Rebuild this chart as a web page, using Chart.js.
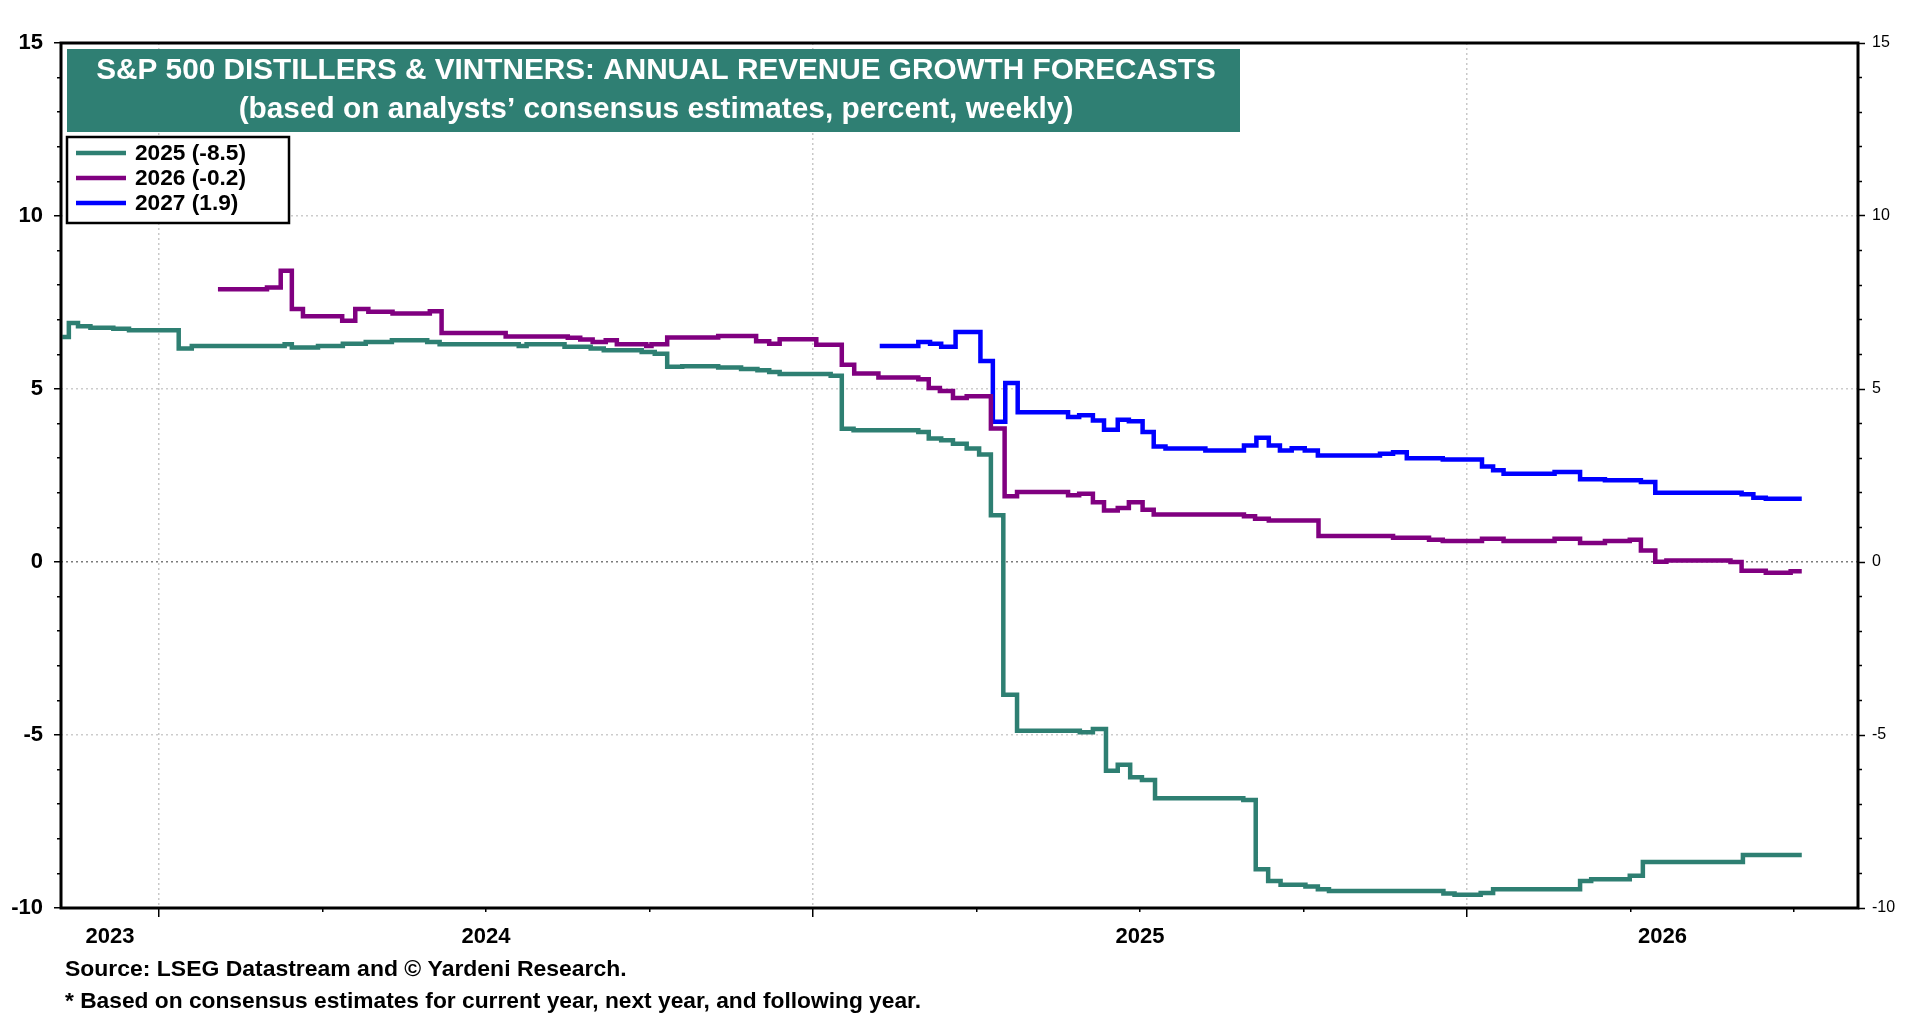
<!DOCTYPE html>
<html>
<head>
<meta charset="utf-8">
<script src="https://cdn.jsdelivr.net/npm/chart.js@4.4.1/dist/chart.umd.min.js"></script>
<style>
  html, body { margin: 0; padding: 0; background: #fff; }
  #wrap { width: 1920px; height: 1020px; }
</style>
</head>
<body>
<div id="wrap"><canvas id="myCanvas" width="1920" height="1020"></canvas></div>
<script>
// x values are decimal years (weekly consensus, only the weeks where the level changes)
const dates2025 = [2023.852, 2023.862, 2023.876, 2023.895, 2023.930, 2023.954, 2024.030, 2024.050, 2024.192, 2024.203,
  2024.243, 2024.281, 2024.316, 2024.356, 2024.410, 2024.429, 2024.550, 2024.562, 2024.620, 2024.660,
  2024.680, 2024.738, 2024.758, 2024.777, 2024.800, 2024.855, 2024.890, 2024.915, 2024.933, 2024.949,
  2025.027, 2025.044, 2025.062, 2025.161, 2025.177, 2025.196, 2025.214, 2025.235, 2025.254, 2025.272,
  2025.291, 2025.312, 2025.408, 2025.428, 2025.448, 2025.466, 2025.485, 2025.503, 2025.523, 2025.658,
  2025.677, 2025.696, 2025.715, 2025.753, 2025.772, 2025.789, 2025.964, 2025.981, 2026.021, 2026.040,
  2026.173, 2026.190, 2026.249, 2026.269, 2026.422, 2026.512]
const growth2025 = [6.50, 6.91, 6.81, 6.77, 6.74, 6.70, 6.17, 6.24, 6.29, 6.20,
  6.24, 6.31, 6.36, 6.41, 6.36, 6.29, 6.24, 6.29, 6.22, 6.17,
  6.12, 6.07, 6.02, 5.64, 5.66, 5.62, 5.58, 5.54, 5.49, 5.43,
  5.38, 3.85, 3.81, 3.76, 3.57, 3.52, 3.42, 3.28, 3.11, 1.35,
  -3.84, -4.88, -4.92, -4.83, -6.03, -5.86, -6.22, -6.30, -6.83, -6.88,
  -8.88, -9.22, -9.33, -9.38, -9.46, -9.51, -9.58, -9.62, -9.57, -9.46,
  -9.22, -9.17, -9.07, -8.67, -8.47, -8.47]

const dates2026 = [2024.090, 2024.165, 2024.186, 2024.203, 2024.220, 2024.280, 2024.300, 2024.320, 2024.357, 2024.414,
  2024.432, 2024.530, 2024.625, 2024.644, 2024.663, 2024.683, 2024.700, 2024.745, 2024.753, 2024.777,
  2024.855, 2024.913, 2024.933, 2024.949, 2025.005, 2025.044, 2025.063, 2025.100, 2025.161, 2025.177,
  2025.194, 2025.214, 2025.235, 2025.272, 2025.293, 2025.312, 2025.390, 2025.407, 2025.428, 2025.445,
  2025.466, 2025.483, 2025.504, 2025.521, 2025.659, 2025.676, 2025.697, 2025.773, 2025.887, 2025.942,
  2025.963, 2026.023, 2026.056, 2026.134, 2026.173, 2026.211, 2026.249, 2026.266, 2026.288, 2026.305,
  2026.403, 2026.420, 2026.457, 2026.495, 2026.512]
const growth2026 = [7.88, 7.93, 8.42, 7.31, 7.10, 6.97, 7.31, 7.23, 7.18, 7.25,
  6.62, 6.52, 6.48, 6.43, 6.36, 6.41, 6.29, 6.24, 6.29, 6.49,
  6.53, 6.38, 6.31, 6.44, 6.28, 5.70, 5.45, 5.33, 5.28, 5.03,
  4.94, 4.74, 4.79, 3.86, 1.90, 2.02, 1.93, 1.97, 1.73, 1.49,
  1.56, 1.73, 1.51, 1.37, 1.32, 1.25, 1.20, 0.75, 0.70, 0.64,
  0.61, 0.67, 0.61, 0.67, 0.55, 0.61, 0.64, 0.33, 0.01, 0.04,
  0.00, -0.25, -0.31, -0.27, -0.27]

const dates2027 = [2025.102, 2025.161, 2025.179, 2025.196, 2025.218, 2025.256, 2025.275, 2025.294, 2025.313, 2025.390,
  2025.407, 2025.428, 2025.445, 2025.466, 2025.483, 2025.504, 2025.521, 2025.539, 2025.600, 2025.659,
  2025.678, 2025.697, 2025.714, 2025.732, 2025.752, 2025.772, 2025.867, 2025.887, 2025.908, 2025.963,
  2026.023, 2026.040, 2026.056, 2026.134, 2026.173, 2026.211, 2026.266, 2026.288, 2026.420, 2026.438,
  2026.457, 2026.512]
const growth2027 = [6.24, 6.36, 6.31, 6.22, 6.65, 5.81, 4.05, 5.17, 4.33, 4.19,
  4.24, 4.09, 3.82, 4.11, 4.07, 3.76, 3.34, 3.28, 3.22, 3.37,
  3.59, 3.37, 3.22, 3.29, 3.22, 3.08, 3.13, 3.17, 3.00, 2.96,
  2.76, 2.65, 2.55, 2.60, 2.39, 2.36, 2.31, 2.00, 1.96, 1.86,
  1.83, 1.83]

const seriesLabels = ['2025 (-8.5)', '2026 (-0.2)', '2027 (1.9)']
const seriesColors = ['#2e7f72', '#800080', '#0000ff']
const yearLabels = [2023, 2024, 2025, 2026]
const yMajorTicks = [-10, -5, 0, 5, 10, 15]

const X_MIN = 2023.85
const X_MAX = 2026.598
const FONT = 'Liberation Sans, Arial, Helvetica, sans-serif'

const titleText = 'S&P 500 DISTILLERS & VINTNERS: ANNUAL REVENUE GROWTH FORECASTS'
const subtitleText = '(based on analysts\u2019 consensus estimates, percent, weekly)'
const sourceText = 'Source: LSEG Datastream and \u00A9 Yardeni Research.'
const noteText = '* Based on consensus estimates for current year, next year, and following year.'

const toPoints = (xs, ys) => xs.map((x, i) => ({x: x, y: ys[i]}))

// quarter ticks and year labels (placed mid-way in the visible part of each year)
let quarterTicks = []
for (let q = Math.ceil(X_MIN * 4) / 4; q <= X_MAX; q += 0.25) quarterTicks.push(q)
let labelAt = new Map()
yearLabels.forEach(y => {
    let lo = Math.max(y, X_MIN), hi = Math.min(y + 1, X_MAX)
    labelAt.set((lo + hi) / 2, String(y))
})
const isYearStart = v => Math.abs(v - Math.round(v)) < 1e-6 && v > X_MIN
const isQuarter = v => quarterTicks.some(q => Math.abs(q - v) < 1e-6)

function fitSize(ctx, text, weight, width) {
    ctx.font = weight + ' 100px ' + FONT
    return 100 * width / ctx.measureText(text).width
}

const decor = {
    id: 'decor',
    beforeDraw(chart) {
        let ctx = chart.ctx
        ctx.save()
        ctx.fillStyle = '#fff'
        ctx.fillRect(0, 0, chart.width, chart.height)
        ctx.restore()
    },
    afterDatasetsDraw(chart) {
        let ctx = chart.ctx
        let a = chart.chartArea
        ctx.save()
        // frame
        ctx.strokeStyle = '#000'
        ctx.lineWidth = 3
        ctx.strokeRect(a.left, a.top, a.right - a.left, a.bottom - a.top)

        // title box
        ctx.fillStyle = '#2f7f73'
        ctx.fillRect(a.left + 6, a.top + 6, 1173, 83)
        ctx.fillStyle = '#fff'
        ctx.textAlign = 'center'
        ctx.textBaseline = 'middle'
        let s = fitSize(ctx, titleText, 'bold', 1120)
        ctx.font = 'bold ' + s + 'px ' + FONT
        ctx.fillText(titleText, 656, 71)
        s = fitSize(ctx, subtitleText, 'bold', 835)
        ctx.font = 'bold ' + s + 'px ' + FONT
        ctx.fillText(subtitleText, 656, 110)

        // legend
        ctx.fillStyle = '#fff'
        ctx.fillRect(67, 137, 222, 86)
        ctx.strokeStyle = '#000'
        ctx.lineWidth = 2.5
        ctx.strokeRect(67, 137, 222, 86)
        s = fitSize(ctx, seriesLabels[0], 'bold', 111)
        ctx.font = 'bold ' + s + 'px ' + FONT
        ctx.textAlign = 'left'
        chart.data.datasets.forEach((ds, i) => {
            let y = 153 + i * 25
            ctx.strokeStyle = ds.borderColor
            ctx.lineWidth = 4.5
            ctx.beginPath()
            ctx.moveTo(76, y)
            ctx.lineTo(126, y)
            ctx.stroke()
            ctx.fillStyle = '#000'
            ctx.fillText(ds.label, 135, y + 1)
        })

        // notes under the chart
        s = fitSize(ctx, sourceText, 'bold', 562)
        ctx.font = 'bold ' + s + 'px ' + FONT
        ctx.fillText(sourceText, 65, 970)
        s = fitSize(ctx, noteText, 'bold', 856)
        ctx.font = 'bold ' + s + 'px ' + FONT
        ctx.fillText(noteText, 65, 1002)
        ctx.restore()
    }
}

const makeSet = (label, color, xs, ys) => ({
    label: label,
    data: toPoints(xs, ys),
    borderColor: color,
    backgroundColor: color,
    borderWidth: 4.5,
    pointRadius: 0,
    stepped: 'before',
    fill: false
})

let grafic = document.querySelector('#myCanvas').getContext('2d')
let myChart = new Chart(grafic, {
    type: 'line',
    data: {
        datasets: [
            makeSet(seriesLabels[0], seriesColors[0], dates2025, growth2025),
            makeSet(seriesLabels[1], seriesColors[1], dates2026, growth2026),
            makeSet(seriesLabels[2], seriesColors[2], dates2027, growth2027)
        ]
    },
    options: {
        responsive: false,
        animation: false,
        layout: { padding: { top: 43, left: 0, right: 0, bottom: 0 } },
        scales: {
            x: {
                type: 'linear',
                min: X_MIN,
                max: X_MAX,
                afterBuildTicks: scale => {
                    let vals = quarterTicks.slice()
                    labelAt.forEach((t, v) => { if (!isQuarter(v)) vals.push(v) })
                    vals.sort((p, q) => p - q)
                    scale.ticks = vals.map(v => ({value: v}))
                },
                afterFit: scale => { scale.height = 112 },
                ticks: {
                    autoSkip: false,
                    maxRotation: 0,
                    padding: 7,
                    color: '#000',
                    font: { family: FONT, size: 22, weight: 'bold' },
                    callback: v => {
                        for (let [k, t] of labelAt) if (Math.abs(k - v) < 1e-6) return t
                        return ''
                    }
                },
                grid: {
                    color: c => (c.tick && isYearStart(c.tick.value)) ? '#c8c8c8' : 'rgba(0,0,0,0)',
                    lineWidth: 1.5,
                    tickLength: 9,
                    tickWidth: 1.5,
                    tickColor: c => (c.tick && isQuarter(c.tick.value)) ? '#000' : 'rgba(0,0,0,0)',
                    tickBorderDash: c => (c.tick && isYearStart(c.tick.value)) ? [] : [4, 100]
                },
                border: { display: false, dash: [2, 3] }
            },
            y: {
                position: 'left',
                min: -10,
                max: 15,
                afterBuildTicks: scale => {
                    let vals = []
                    for (let v = -10; v <= 15; v++) vals.push(v)
                    scale.ticks = vals.map(v => ({value: v}))
                },
                afterFit: scale => { scale.width = 61 },
                ticks: {
                    padding: 11,
                    color: '#000',
                    font: { family: FONT, size: 22, weight: 'bold' },
                    callback: v => yMajorTicks.includes(v) ? String(v) : ''
                },
                grid: {
                    color: c => {
                        let v = c.tick ? c.tick.value : null
                        if (v === 0) return '#7a7a7a'
                        return yMajorTicks.includes(v) ? '#cccccc' : 'rgba(0,0,0,0)'
                    },
                    lineWidth: 1.5,
                    tickLength: 7,
                    tickWidth: 1.5,
                    tickColor: '#000',
                    tickBorderDash: c => (c.tick && yMajorTicks.includes(c.tick.value)) ? [] : [0, 3, 4, 100]
                },
                border: { display: false, dash: [2, 3] }
            },
            y2: {
                position: 'right',
                min: -10,
                max: 15,
                afterBuildTicks: scale => {
                    let vals = []
                    for (let v = -10; v <= 15; v++) vals.push(v)
                    scale.ticks = vals.map(v => ({value: v}))
                },
                afterFit: scale => { scale.width = 62 },
                ticks: {
                    padding: 7,
                    color: '#000',
                    font: { family: FONT, size: 16 },
                    callback: v => yMajorTicks.includes(v) ? String(v) : ''
                },
                grid: {
                    drawOnChartArea: false,
                    tickLength: 7,
                    tickWidth: 1.5,
                    tickColor: '#000',
                    tickBorderDash: c => (c.tick && yMajorTicks.includes(c.tick.value)) ? [] : [4, 100]
                },
                border: { display: false }
            }
        },
        plugins: {
            legend: { display: false },
            tooltip: { enabled: false }
        }
    },
    plugins: [decor]
})
</script>
</body>
</html>
